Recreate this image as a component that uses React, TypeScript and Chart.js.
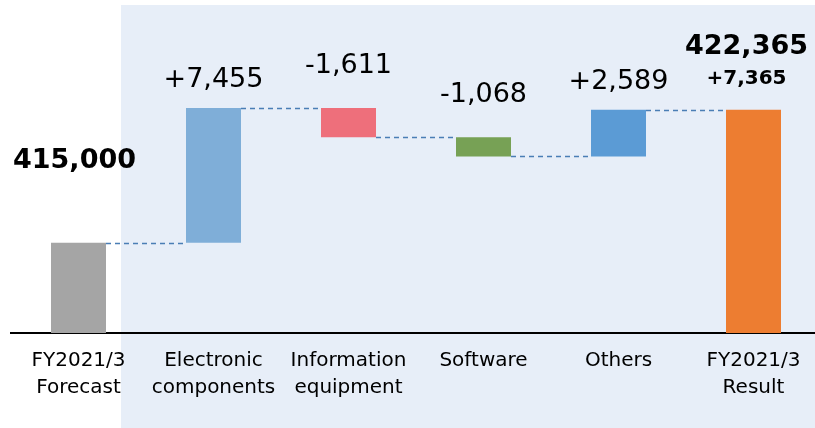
import React, { useEffect, useRef } from "react";
import { Chart, registerables } from "chart.js";

Chart.register(...registerables);

const categories: string[][] = [
  ["FY2021/3", "Forecast"],
  ["Electronic", "components"],
  ["Information", "equipment"],
  ["Software"],
  ["Others"],
  ["FY2021/3", "Result"],
];
const forecastValue = 415000;
const deltaValues = [7455, -1611, -1068, 2589];
const resultValue = 422365;
const axisMin = 410000;
const axisMax = 428000;
const barColors = ["#A5A5A5", "#7FAED8", "#EE6F7B", "#77A155", "#5B9BD5", "#ED7D31"];

const fmt = (v: number) => Math.abs(v).toLocaleString("en-US");
const signed = (v: number) => (v >= 0 ? "+" : "-") + fmt(v);

// floating ranges and end levels built from the data
const ranges: number[][] = [];
const levels: number[] = [];
ranges.push([axisMin, forecastValue]);
levels.push(forecastValue);
let running = forecastValue;
for (const d of deltaValues) {
  ranges.push([running, running + d]);
  running += d;
  levels.push(running);
}
ranges.push([axisMin, resultValue]);
levels.push(resultValue);

const FONT = "'DejaVu Sans', Verdana, sans-serif";

const waterfallPlugin = {
  id: "waterfallDecor",
  afterDatasetsDraw(chart: any) {
    const ctx = chart.ctx as CanvasRenderingContext2D;
    const meta = chart.getDatasetMeta(0);
    const yScale = chart.scales.y;
    const els = meta.data as any[];
    ctx.save();
    // connectors
    ctx.strokeStyle = "#4A7EB5";
    ctx.lineWidth = 1.3;
    ctx.setLineDash([5, 4]);
    for (let i = 0; i < els.length - 1; i++) {
      const a = els[i];
      const b = els[i + 1];
      const y = Math.round(yScale.getPixelForValue(levels[i])) + 0.5;
      ctx.beginPath();
      ctx.moveTo(a.x + a.width / 2, y);
      ctx.lineTo(b.x - b.width / 2, y);
      ctx.stroke();
    }
    ctx.setLineDash([]);
    // labels
    ctx.fillStyle = "#000";
    ctx.textAlign = "center";
    ctx.textBaseline = "middle";
    for (let i = 0; i < els.length; i++) {
      const el = els[i];
      const top = Math.min(el.y, el.base);
      if (i === 0) {
        ctx.font = `bold 27px ${FONT}`;
        ctx.fillText(fmt(forecastValue), el.x - 4, top - 82);
      } else if (i === els.length - 1) {
        ctx.font = `bold 27px ${FONT}`;
        ctx.fillText(fmt(resultValue), el.x - 7, top - 63);
        ctx.font = `bold 20px ${FONT}`;
        ctx.fillText(signed(resultValue - forecastValue), el.x - 7, top - 31);
      } else {
        const d = deltaValues[i - 1];
        ctx.font = `27px ${FONT}`;
        ctx.fillText(signed(d), el.x, top - (d >= 0 ? 28 : 42));
      }
    }
    ctx.restore();
  },
};

export default function App() {
  const ref = useRef<HTMLCanvasElement | null>(null);
  useEffect(() => {
    if (!ref.current) return;
    const chart = new Chart(ref.current, {
      type: "bar",
      data: {
        labels: categories,
        datasets: [
          {
            data: ranges as any,
            backgroundColor: barColors,
            borderWidth: 0,
            barPercentage: 55 / 135,
            categoryPercentage: 1,
          },
        ],
      },
      options: {
        responsive: false,
        animation: false,
        devicePixelRatio: 1,
        layout: { padding: { left: 11, right: 0, top: 8, bottom: 0 } },
        plugins: { legend: { display: false }, tooltip: { enabled: false } },
        scales: {
          x: {
            type: "category",
            offset: true,
            grid: { display: false, drawTicks: false },
            border: { display: true, color: "#000", width: 2 },
            ticks: {
              color: "#000",
              padding: 14,
              maxRotation: 0,
              autoSkip: false,
              font: { family: FONT, size: 20, lineHeight: 1.35 },
            },
            afterFit: (s: any) => {
              s.height = 95;
            },
          },
          y: {
            display: false,
            min: axisMin,
            max: axisMax,
          },
        },
      },
      plugins: [waterfallPlugin],
    });
    return () => chart.destroy();
  }, []);
  return (
    <div style={{ position: "absolute", left: 0, top: 0, width: 815, height: 428, overflow: "hidden" }}>
      <div
        style={{
          position: "absolute",
          left: 121,
          top: 5,
          right: 0,
          bottom: 0,
          background: "#E7EEF8",
        }}
      />
      <canvas
        ref={ref}
        width={821}
        height={428}
        style={{ position: "absolute", left: 0, top: 0, width: 821, height: 428, display: "block" }}
      />
    </div>
  );
}
